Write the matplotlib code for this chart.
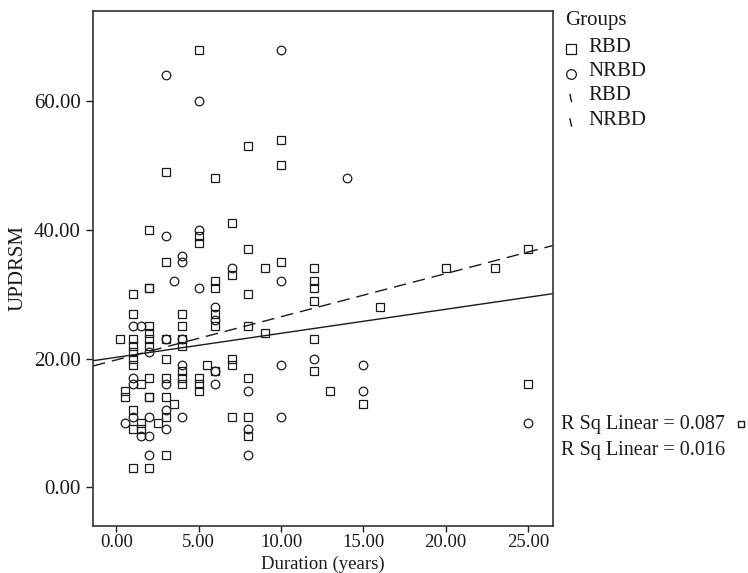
import matplotlib
matplotlib.use('Agg')
import matplotlib.pyplot as plt
from matplotlib.lines import Line2D
import numpy as np

plt.rcParams['font.family'] = ['Liberation Serif', 'DejaVu Serif']

# RBD group (squares)
rbd_x = [0.25, 0.5, 0.5,
         1, 1, 1, 1, 1, 1, 1, 1, 1, 1,
         1.5, 1.5, 1.5,
         2, 2, 2, 2, 2, 2, 2, 2, 2, 2, 2,
         2.5,
         3, 3, 3, 3, 3, 3, 3, 3,
         3.5,
         4, 4, 4, 4, 4, 4, 4,
         5, 5, 5, 5, 5, 5,
         5.5,
         6, 6, 6, 6, 6, 6,
         7, 7, 7, 7, 7,
         8, 8, 8, 8, 8, 8, 8,
         9, 9,
         10, 10, 10,
         12, 12, 12, 12, 12, 12,
         13, 15, 16, 20, 23, 25, 25]
rbd_y = [23, 15, 14,
         30, 27, 23, 22, 21, 20, 19, 12, 9, 3,
         16, 10, 9,
         40, 31, 31, 25, 24, 23, 22, 17, 14, 14, 3,
         10,
         49, 35, 23, 20, 17, 14, 11, 5,
         13,
         27, 25, 23, 22, 18, 17, 16,
         68, 39, 38, 17, 16, 15,
         19,
         48, 32, 31, 27, 25, 18,
         41, 33, 20, 19, 11,
         53, 37, 30, 25, 17, 11, 8,
         34, 24,
         54, 50, 35,
         34, 32, 31, 29, 23, 18,
         15, 13, 28, 34, 34, 37, 16]

# NRBD group (circles)
nrbd_x = [0.5,
          1, 1, 1, 1,
          1.5, 1.5,
          2, 2, 2, 2,
          3, 3, 3, 3, 3, 3,
          3.5,
          4, 4, 4, 4, 4,
          5, 5, 5,
          6, 6, 6, 6,
          7,
          8, 8, 8,
          10, 10, 10, 10,
          12, 14, 15, 15, 25]
nrbd_y = [10,
          25, 17, 16, 11,
          25, 8,
          21, 11, 8, 5,
          64, 39, 23, 16, 12, 9,
          32,
          36, 35, 23, 19, 11,
          60, 40, 31,
          28, 26, 18, 16,
          34,
          15, 9, 5,
          68, 32, 19, 11,
          20, 48, 19, 15, 10]

# fitted lines: (intercept, slope)
fit_rbd = (19.8, 0.67)
fit_nrbd = (20.2, 0.373)
r2_labels = ['R Sq Linear = 0.087', 'R Sq Linear = 0.016']

xticks = [0, 5, 10, 15, 20, 25]
yticks = [0, 20, 40, 60]

fig = plt.figure(figsize=(7.48, 5.73), dpi=100)
ax = fig.add_axes([0.1243, 0.082, 0.6147, 0.899])

ink = '#1a1a1a'
fs = 15
ax.plot(rbd_x, rbd_y, linestyle='none', marker='s', markersize=5.8,
        markerfacecolor='none', markeredgecolor=ink, markeredgewidth=0.9)
ax.plot(nrbd_x, nrbd_y, linestyle='none', marker='o', markersize=6.2,
        markerfacecolor='none', markeredgecolor=ink, markeredgewidth=0.9)

ax.set_xlim(-1.42, 26.5)
ax.set_ylim(-6, 74)

xs = np.array(ax.get_xlim())
ax.plot(xs, fit_rbd[0] + fit_rbd[1] * xs, color=ink, lw=1.0,
        linestyle=(0, (9, 5)))
ax.plot(xs, fit_nrbd[0] + fit_nrbd[1] * xs, color=ink, lw=1.0)

ax.set_xticks(xticks)
ax.set_xticklabels([f'{v:.2f}' for v in xticks])
ax.set_yticks(yticks)
ax.set_yticklabels([f'{v:.2f}' for v in yticks])
ax.tick_params(direction='out', width=1, colors=ink)
ax.tick_params(axis='y', length=5, labelsize=fs, pad=4)
ax.tick_params(axis='x', length=4, labelsize=13.5, pad=1.5)
for s in ax.spines.values():
    s.set_linewidth(1.2)
    s.set_color('#333333')

ax.set_xlabel('Duration (years)', fontsize=13.5, color=ink)
ax.xaxis.set_label_coords(0.5, -(573 - 526) / 515)
ax.xaxis.label.set_va('bottom')
ax.set_ylabel('UPDRSM', fontsize=fs, color=ink)
ax.yaxis.set_label_coords(-(93 - 18) / 460, 0.5)
ax.yaxis.label.set_va('center')

# legend on the right, drawn by hand to match the original layout
fig.text(565 / 748, 1 - 20 / 573, 'Groups', fontsize=fs, color=ink, va='center')
legend_rows = ['RBD', 'NRBD', 'RBD', 'NRBD']
for i, lab in enumerate(legend_rows):
    yy = 1 - (47 + 24.5 * i) / 573
    ym = yy - 2 / 573
    if i == 0:
        fig.add_artist(Line2D([571 / 748], [ym], marker='s', markersize=6.5,
                              markerfacecolor='none', markeredgecolor=ink,
                              markeredgewidth=0.9, transform=fig.transFigure))
    elif i == 1:
        fig.add_artist(Line2D([571 / 748], [ym], marker='o', markersize=7,
                              markerfacecolor='none', markeredgecolor=ink,
                              markeredgewidth=0.9, transform=fig.transFigure))
    else:
        fig.add_artist(Line2D([570 / 748, 571.5 / 748], [ym + 3.5 / 573, ym - 3.5 / 573],
                              color=ink, lw=1.0, transform=fig.transFigure))
    fig.text(588 / 748, yy, lab, fontsize=fs, color=ink, va='center')

fig.text(561 / 748, 1 - 424 / 573, r2_labels[0], fontsize=14.5, color=ink, va='center')
fig.add_artist(Line2D([741 / 748], [1 - 424 / 573], marker='s', markersize=4,
                      markerfacecolor='none', markeredgecolor=ink,
                      markeredgewidth=1.0, transform=fig.transFigure))
fig.text(561 / 748, 1 - 450 / 573, r2_labels[1], fontsize=14.5, color=ink, va='center')

fig.savefig('out.png', dpi=100)
